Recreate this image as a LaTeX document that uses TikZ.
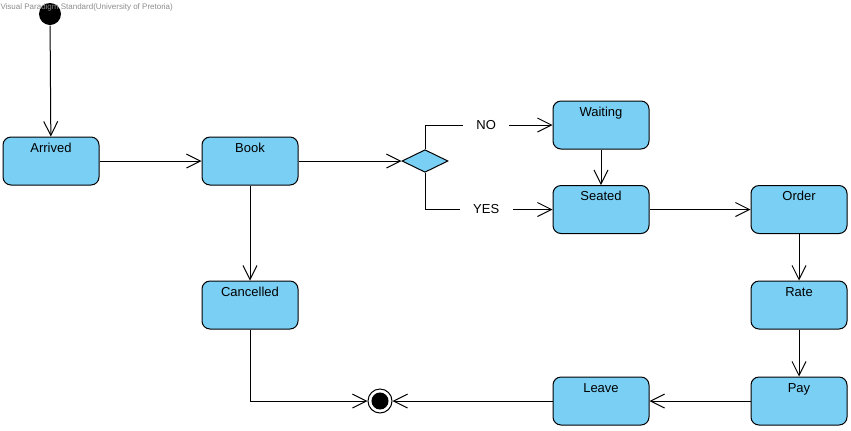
\documentclass[tikz,border=0pt]{standalone}
\usepackage{fontspec}
\setmainfont{Liberation Sans}
\usetikzlibrary{arrows.meta, shapes.geometric}
\definecolor{stateblue}{RGB}{122,207,245}

\begin{document}
\begin{tikzpicture}[->, >={Straight Barb[length=10.5pt,width=10.5pt]}, line width=0.75pt, x=0.75pt, y=-0.75pt]
\tikzstyle{stateBox}=[draw=black, fill=stateblue, rounded corners=6pt, minimum width=72pt, minimum height=36pt, inner ysep=4.5pt, text height=7pt, text depth=20pt, font=\fontsize{9.75}{11}\selectfont]
\tikzstyle{choice}=[diamond, draw=black, fill=stateblue, minimum width=34.5pt, minimum height=17pt, inner sep=0pt]
\tikzstyle{guard}=[fill=white, inner xsep=10pt, inner ysep=1pt, font=\fontsize{9.75}{11}\selectfont]
\useasboundingbox (0,0) rectangle (851,430);
\node[circle, fill=black, minimum size=16.5pt, inner sep=0pt] (start) at (50,14) {};
\node[anchor=west, text=black!45, inner sep=0pt, font=\fontsize{6}{7}\selectfont] (vp) at (0,7) {Visual Paradigm Standard(University of Pretoria)};
\node[stateBox] (arrived)   at (51,161)   {Arrived};
\node[stateBox] (book)      at (250,161)  {Book};
\node[choice]   (dec)       at (425,161)  {};
\node[stateBox] (waiting)   at (601,125)  {Waiting};
\node[stateBox] (seated)    at (601,209.5) {Seated};
\node[stateBox] (order)     at (799,209.5) {Order};
\node[stateBox] (rate)      at (799,305)  {Rate};
\node[stateBox] (pay)       at (799,401)  {Pay};
\node[stateBox] (leave)     at (601,401)  {Leave};
\node[stateBox] (cancelled) at (250,305)  {Cancelled};
\node[circle, draw=black, fill=white, minimum size=18pt, inner sep=0pt,
      path picture={\fill[black] (path picture bounding box.center) circle (6.4pt);}] (final) at (380,401) {};
\path
(start)     edge                      (arrived)
(arrived)   edge                      (book)
(book)      edge                      (dec)
            edge                      (cancelled)
(dec.north) edge[to path={|- (\tikztotarget) \tikztonodes}] node[guard, pos=0.74] {NO}  (waiting)
(dec.south) edge[to path={|- (\tikztotarget) \tikztonodes}] node[guard, pos=0.74] {YES} (seated)
(waiting)   edge                      (seated)
(seated)    edge                      (order)
(order)     edge                      (rate)
(rate)      edge                      (pay)
(pay)       edge                      (leave)
(leave)     edge                      (final)
(cancelled) edge[to path={|- (\tikztotarget) \tikztonodes}] (final);
\end{tikzpicture}
\end{document}
